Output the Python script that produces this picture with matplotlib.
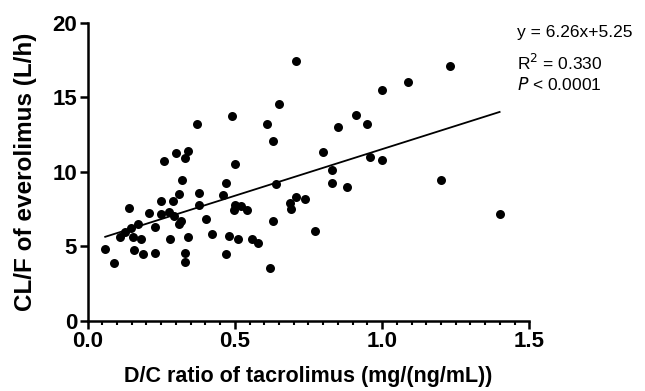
import matplotlib
matplotlib.use("Agg")
import matplotlib.pyplot as plt
import numpy as np
from matplotlib.ticker import MultipleLocator

plt.rcParams['font.family'] = ['Liberation Sans', 'DejaVu Sans']

# D/C ratio tacrolimus vs CL/F everolimus
dc_ratio = [0.060, 0.091, 0.109, 0.128, 0.140, 0.149, 0.156, 0.159, 0.170, 0.180,
            0.190, 0.209, 0.229, 0.230, 0.250, 0.251, 0.261, 0.279, 0.278, 0.289,
            0.293, 0.300, 0.309, 0.311, 0.318, 0.320, 0.331, 0.331, 0.331, 0.341,
            0.341, 0.370, 0.380, 0.380, 0.401, 0.422, 0.459, 0.469, 0.469, 0.480,
            0.490, 0.497, 0.500, 0.500, 0.510, 0.520, 0.541, 0.560, 0.580, 0.610,
            0.620, 0.630, 0.630, 0.640, 0.651, 0.689, 0.690, 0.709, 0.709, 0.740,
            0.771, 0.800, 0.830, 0.830, 0.851, 0.880, 0.911, 0.950, 0.959, 1.000,
            1.000, 1.089, 1.200, 1.230, 1.399]
clf = [4.80, 3.87, 5.60, 5.96, 7.53, 6.19, 5.62, 4.71, 6.46, 5.48,
       4.46, 7.24, 6.26, 4.57, 8.05, 7.14, 10.74, 5.46, 7.26, 8.01,
       7.03, 11.24, 8.53, 6.51, 6.69, 9.47, 10.92, 4.55, 3.91, 11.40,
       5.60, 13.17, 8.60, 7.74, 6.83, 5.82, 8.46, 9.24, 4.46, 5.67,
       13.74, 7.44, 10.49, 7.74, 5.46, 7.67, 7.44, 5.48, 5.23, 13.17,
       3.53, 12.08, 6.67, 9.15, 14.56, 7.87, 7.49, 8.28, 17.41, 8.15,
       6.01, 11.29, 10.10, 9.26, 12.97, 8.99, 13.79, 13.17, 10.99, 15.47,
       10.76, 16.04, 9.44, 17.09, 7.19]

slope = 6.26
intercept = 5.25

fig = plt.figure(figsize=(6.45, 3.91), dpi=100)
ax = fig.add_axes([0.1357, 0.180, 0.685, 0.762])

ax.scatter(dc_ratio, clf, s=42, color="black", zorder=3, linewidths=0)

# Regressionsgerade
xfit = np.array([min(dc_ratio), max(dc_ratio)])
ax.plot(xfit, slope * xfit + intercept, color="black", linewidth=1.3)

ax.set_xlim(0, 1.5)
ax.set_ylim(0, 20)
ax.xaxis.set_major_locator(MultipleLocator(0.5))
ax.xaxis.set_minor_locator(MultipleLocator(0.05))
ax.yaxis.set_major_locator(MultipleLocator(5))
ax.xaxis.set_major_formatter(plt.FormatStrFormatter('%.1f'))

for side in ['top', 'right']:
    ax.spines[side].set_visible(False)
for side in ['left', 'bottom']:
    ax.spines[side].set_linewidth(1.8)

ax.tick_params(which='major', length=5.5, width=1.8, labelsize=16, pad=2)
ax.tick_params(which='minor', length=3, width=1.5)
for lab in ax.get_xticklabels() + ax.get_yticklabels():
    lab.set_fontweight('bold')

ax.set_xlabel("D/C ratio of tacrolimus (mg/(ng/mL))", fontsize=15.5, fontweight='bold', va='center')
ax.set_ylabel("CL/F of everolimus (L/h)", fontsize=17.5, fontweight='bold', va='center')
ax.xaxis.set_label_coords(0.5, -0.189)
ax.yaxis.set_label_coords(-0.1415, 0.5)

fig.text(0.801, 1 - 33 / 391, "y = 6.26x+5.25", fontsize=12.5, va='center', ha='left')
fig.text(0.801, 1 - 63 / 391, "R$^2$ = 0.330", fontsize=12.5, va='center', ha='left')
fig.text(0.801, 1 - 85 / 391, r"$\it{P}$ < 0.0001", fontsize=12.5, va='center', ha='left')

fig.savefig("out.png", dpi=100)
